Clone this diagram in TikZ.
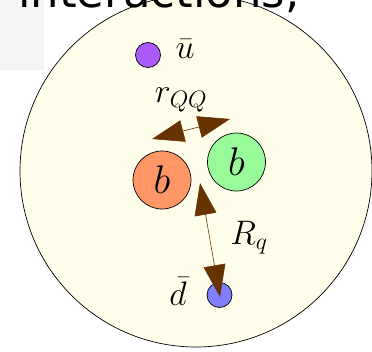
\RequirePackage{fix-cm}
\documentclass[tikz,border=0pt]{standalone}
\usepackage{fontspec}
\newfontfamily\headfont{DejaVu Sans}
\usetikzlibrary{arrows.meta}
\definecolor{bagfill}{RGB}{255,254,234}
\definecolor{graybox}{RGB}{245,245,245}
\definecolor{orangeq}{RGB}{255,150,102}
\definecolor{greenq}{RGB}{153,250,153}
\definecolor{blueq}{RGB}{128,128,255}
\definecolor{purpleq}{RGB}{170,90,250}
\definecolor{brownar}{RGB}{102,51,0}
\tikzset{
  quark/.style={circle, draw=black, line width=0.7pt, inner sep=0pt},
  heavy/.style={quark, minimum size=58pt, font=\fontsize{40}{44}\selectfont},
  light/.style={quark, minimum size=25pt},
  lab/.style={inner sep=0pt, font=\fontsize{34}{38}\selectfont},
  dist/.style={draw=brownar, line width=0.6pt,
    {Triangle[length=32pt,width=22pt,fill=brownar]}-{Triangle[length=32pt,width=22pt,fill=brownar]}}
}
\begin{document}
\begin{tikzpicture}[x=1pt,y=-1pt]
\useasboundingbox (0,0) rectangle (372,351);
\fill[graybox] (0,0) rectangle (44,70);
\draw[fill=bagfill, line width=0.7pt] (196,171) circle (176);
\node[anchor=base west, inner sep=0pt, font=\headfont\fontsize{45}{50}\selectfont] (title) at (18,7) {interactions,};
\node[light, fill=purpleq] (ubar) at (148,55) {};
\node[lab] (ubarlab) at (185,49) {$\bar u$};
\node[heavy, fill=orangeq] (b1) at (162,180) {$b$};
\node[heavy, fill=greenq] (b2) at (236.5,162) {$b$};
\node[light, fill=blueq] (dbar) at (219.5,295) {};
\node[lab] (dbarlab) at (178,291) {$\bar d$};
\node[lab] (rqq) at (181,100) {$r_{QQ}$};
\node[lab] (Rq) at (249,238) {$R_q$};
\coordinate (rl) at (152,139);
\coordinate (rr) at (230,119);
\coordinate (rt) at (200,183);
\coordinate (rb) at (220,297);
\draw[dist] (rl) -- (rr);
\draw[dist] (rt) -- (rb);
\end{tikzpicture}
\end{document}
